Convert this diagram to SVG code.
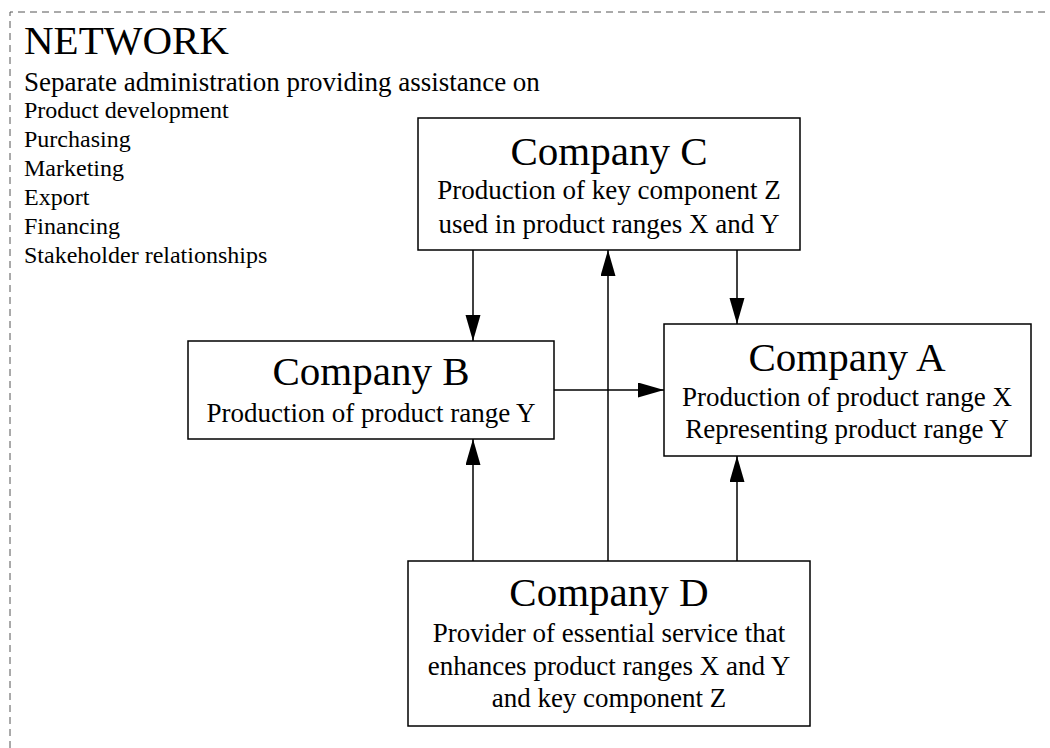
<svg xmlns="http://www.w3.org/2000/svg" width="1050" height="748" viewBox="0 0 1050 748">
  <style>
    text { font-family: "Liberation Serif", "Times New Roman", serif; fill: #000; }
    .title { font-size: 41px; }
    .sub { font-size: 27px; }
    .item { font-size: 24px; }
    .box { fill: #fff; stroke: #000; stroke-width: 1.5; }
    .link { fill: none; stroke: #000; stroke-width: 1.5; marker-end: url(#arrow); }
    .frame { fill: none; stroke: #555; stroke-width: 1; stroke-dasharray: 7 5; }
  </style>
  <defs>
    <marker id="arrow" markerUnits="userSpaceOnUse" markerWidth="26" markerHeight="16" refX="26" refY="7.5" orient="auto">
      <path d="M0,0 L26,7.5 L0,15 Z" fill="#000"/>
    </marker>
  </defs>
  <rect width="1050" height="748" fill="#fff"/>

  <!-- network boundary, open to the right and bottom -->
  <path class="frame" d="M10,760 V12 H1060"/>

  <g id="network-label">
    <text class="title" x="24" y="54">NETWORK</text>
    <text class="sub" x="24" y="91">Separate administration providing assistance on</text>
    <text class="item" x="24" y="118">Product development</text>
    <text class="item" x="24" y="147">Purchasing</text>
    <text class="item" x="24" y="176">Marketing</text>
    <text class="item" x="24" y="205">Export</text>
    <text class="item" x="24" y="234">Financing</text>
    <text class="item" x="24" y="263">Stakeholder relationships</text>
  </g>

  <g id="connectors">
    <path class="link" d="M473,250 V341"/>
    <path class="link" d="M473,561 V439"/>
    <path class="link" d="M608,561 V250"/>
    <path class="link" d="M737,250 V324"/>
    <path class="link" d="M737,561 V456"/>
    <path class="link" d="M554,390 H664"/>
  </g>

  <g id="company-c">
    <rect class="box" x="418" y="118" width="382" height="132"/>
    <text class="title" x="609" y="165" text-anchor="middle">Company C</text>
    <text class="sub" x="609" y="199" text-anchor="middle">Production of key component Z</text>
    <text class="sub" x="609" y="233" text-anchor="middle">used in product ranges X and Y</text>
  </g>

  <g id="company-b">
    <rect class="box" x="188" y="341" width="366" height="98"/>
    <text class="title" x="371" y="385" text-anchor="middle">Company B</text>
    <text class="sub" x="371" y="422" text-anchor="middle">Production of product range Y</text>
  </g>

  <g id="company-a">
    <rect class="box" x="664" y="324" width="367" height="132"/>
    <text class="title" x="847" y="371" text-anchor="middle">Company A</text>
    <text class="sub" x="847" y="406" text-anchor="middle">Production of product range X</text>
    <text class="sub" x="847" y="438" text-anchor="middle">Representing product range Y</text>
  </g>

  <g id="company-d">
    <rect class="box" x="408" y="561" width="402" height="165"/>
    <text class="title" x="609" y="606" text-anchor="middle">Company D</text>
    <text class="sub" x="609" y="642" text-anchor="middle">Provider of essential service that</text>
    <text class="sub" x="609" y="675" text-anchor="middle">enhances product ranges X and Y</text>
    <text class="sub" x="609" y="707" text-anchor="middle">and key component Z</text>
  </g>
</svg>
